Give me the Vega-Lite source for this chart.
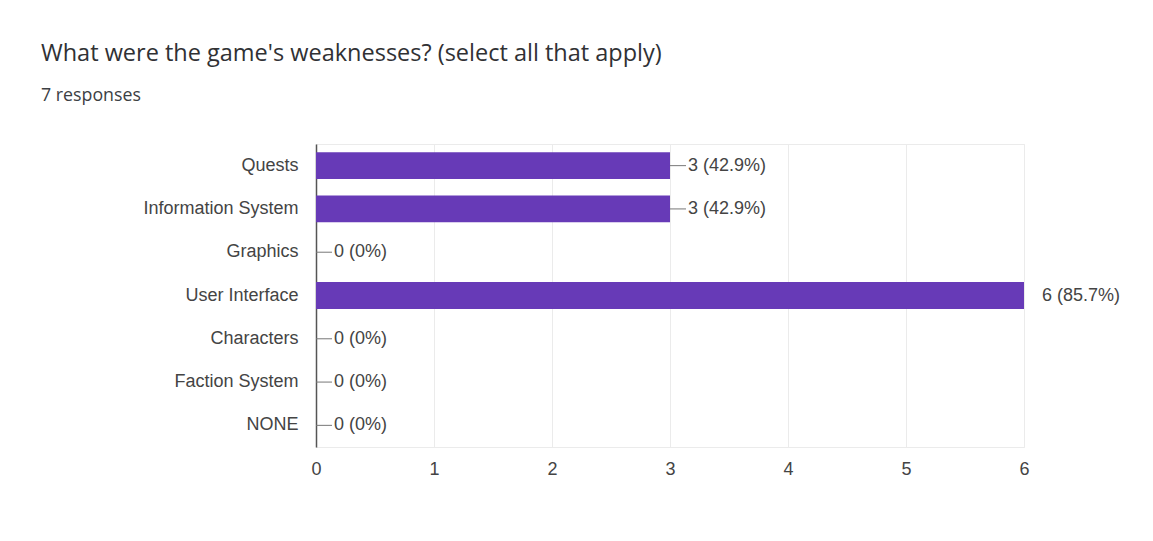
{
  "$schema": "https://vega.github.io/schema/vega-lite/v6.json",
  "width": 708,
  "height": 303,
  "autosize": {"type": "none"},
  "padding": {"left": 316, "top": 144, "right": 129, "bottom": 94},
  "background": "#ffffff",
  "title": {
    "text": "What were the game's weaknesses? (select all that apply)",
    "subtitle": "7 responses",
    "anchor": "start",
    "frame": "group",
    "dx": -275,
    "offset": 39,
    "font": "Open Sans",
    "fontSize": 23.5,
    "fontWeight": "normal",
    "color": "#303134",
    "subtitleFont": "Open Sans",
    "subtitleFontSize": 17.8,
    "subtitleColor": "#3c4043",
    "subtitlePadding": 22
  },
  "data": {
    "values": [
      {"option": "Quests", "count": 3, "label": "3 (42.9%)"},
      {"option": "Information System", "count": 3, "label": "3 (42.9%)"},
      {"option": "Graphics", "count": 0, "label": "0 (0%)"},
      {"option": "User Interface", "count": 6, "label": "6 (85.7%)"},
      {"option": "Characters", "count": 0, "label": "0 (0%)"},
      {"option": "Faction System", "count": 0, "label": "0 (0%)"},
      {"option": "NONE", "count": 0, "label": "0 (0%)"}
    ]
  },
  "encoding": {
    "y": {
      "field": "option",
      "type": "nominal",
      "sort": null,
      "scale": {"paddingInner": 0.38, "paddingOuter": 0.19},
      "axis": {
        "title": null,
        "ticks": false,
        "labelPadding": 18,
        "labelFont": "Liberation Sans",
        "labelFontSize": 18,
        "labelColor": "#444444",
        "domainColor": "#555555",
        "domainWidth": 1.5,
        "grid": false
      }
    },
    "x": {
      "field": "count",
      "type": "quantitative",
      "scale": {"domain": [0, 6], "nice": false},
      "axis": {
        "title": null,
        "values": [0, 0.5, 1, 1.5, 2, 2.5, 3, 3.5, 4, 4.5, 5, 5.5, 6],
        "format": "d",
        "labelExpr": "datum.value % 1 == 0 ? datum.label : ''",
        "labelFlush": false,
        "labelAlign": "center",
        "ticks": false,
        "domain": false,
        "grid": true,
        "gridColor": "#ebebeb",
        "gridWidth": 1,
        "labelPadding": 13,
        "labelFont": "Liberation Sans",
        "labelFontSize": 18,
        "labelColor": "#444444"
      }
    }
  },
  "layer": [
    {
      "mark": {"type": "bar", "color": "#673ab7"}
    },
    {
      "transform": [{"filter": "datum.count < 6"}],
      "mark": {
        "type": "point",
        "shape": "M0,0H2",
        "size": 256,
        "filled": false,
        "color": "#777777",
        "strokeWidth": 1,
        "opacity": 1
      }
    },
    {
      "mark": {
        "type": "text",
        "align": "left",
        "baseline": "middle",
        "dx": 18,
        "font": "Liberation Sans",
        "fontSize": 18,
        "color": "#444444"
      },
      "encoding": {"text": {"field": "label"}}
    }
  ],
  "config": {
    "view": {"stroke": "#ebebeb", "strokeWidth": 1}
  }
}
